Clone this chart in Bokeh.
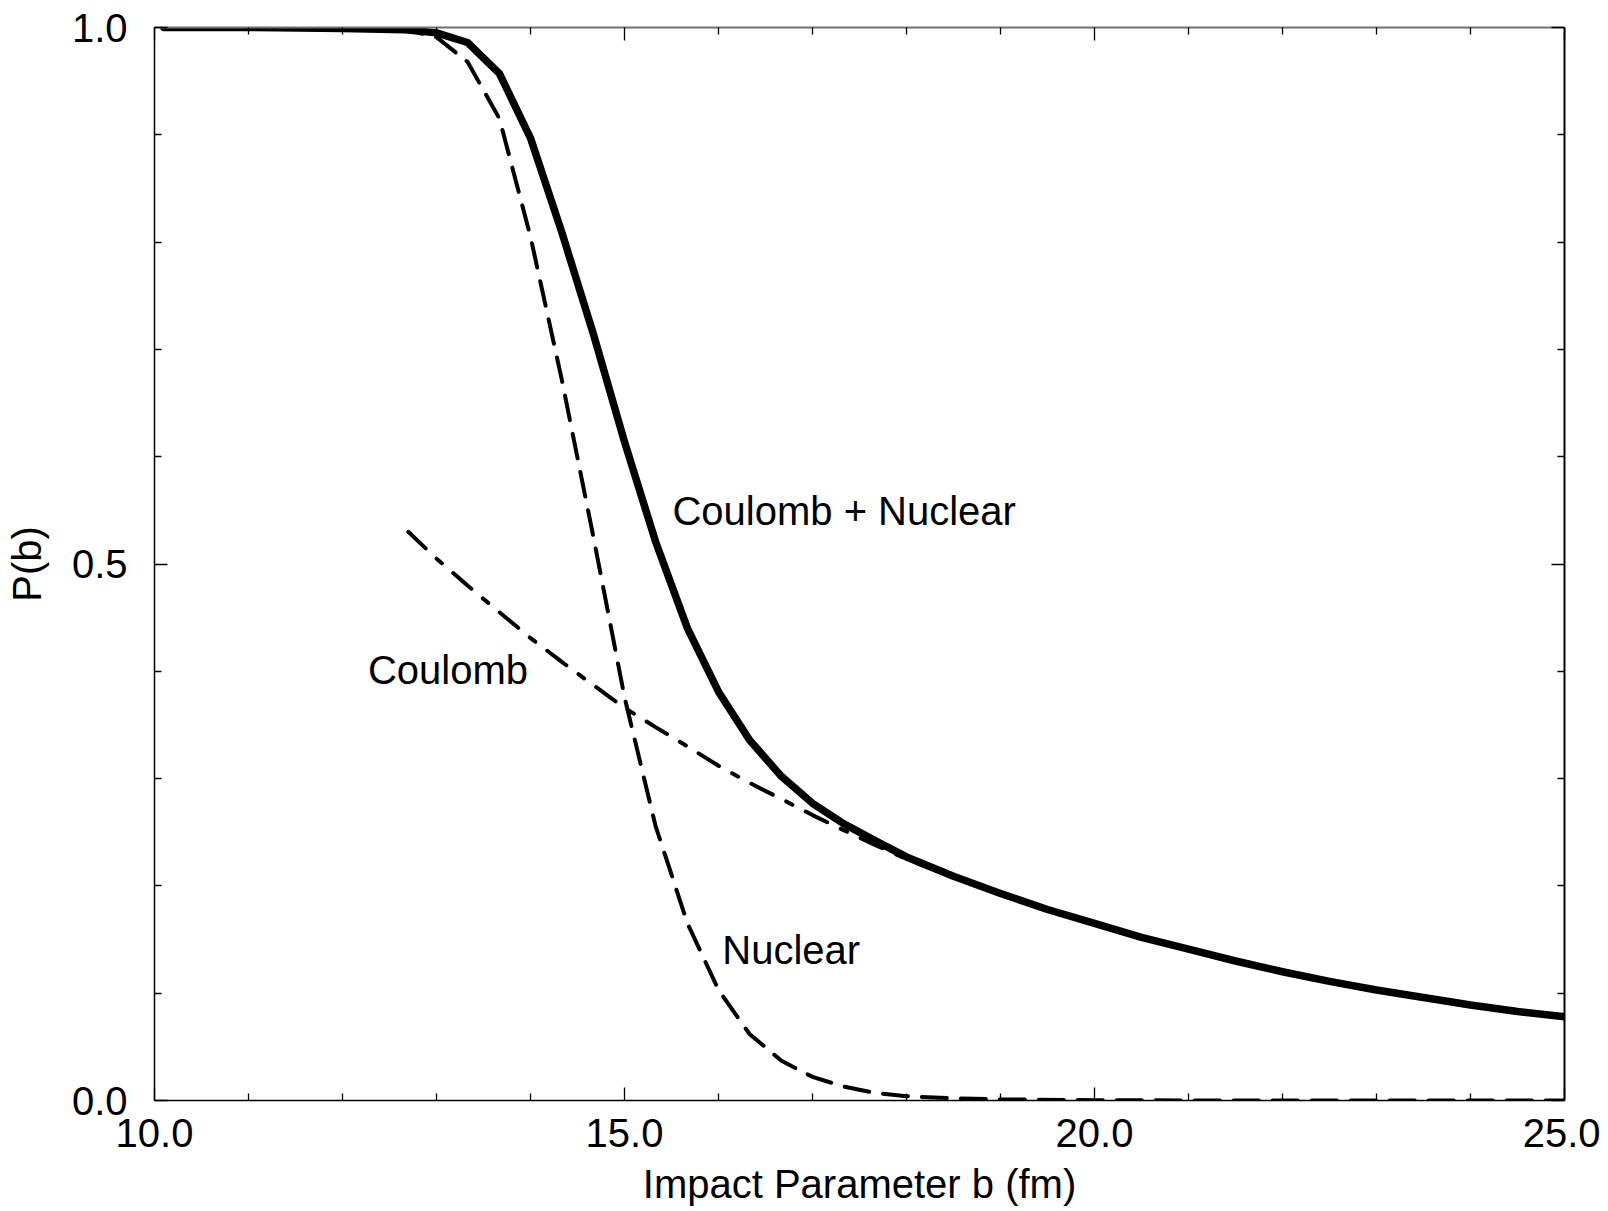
from bokeh.plotting import figure
from bokeh.models import FixedTicker, LinearAxis, Range1d, NumeralTickFormatter
from bokeh.embed import file_html
from bokeh.resources import INLINE
from bokeh.core.properties import value

# Coulomb + Nuclear (solid)
b_total = [10.1, 11.0, 12.0, 12.67, 13.0, 13.33, 13.67, 14.0, 14.33, 14.67, 15.0,
           15.33, 15.67, 16.0, 16.33, 16.67, 17.0, 17.33, 17.67, 18.0, 18.5, 19.0,
           19.5, 20.0, 20.5, 21.0, 21.5, 22.0, 22.5, 23.0, 23.5, 24.0, 24.5, 25.0]
p_total = [1.0, 1.0, 0.999, 0.998, 0.995, 0.986, 0.957, 0.897, 0.810, 0.714, 0.614,
           0.521, 0.440, 0.381, 0.336, 0.302, 0.277, 0.258, 0.242, 0.227, 0.209, 0.193,
           0.178, 0.165, 0.152, 0.141, 0.130, 0.120, 0.111, 0.103, 0.096, 0.089, 0.083, 0.078]

# Nuclear (dashed)
b_nuc = [10.1, 11.0, 12.0, 12.67, 13.0, 13.33, 13.67, 14.0, 14.33, 14.67, 15.0,
         15.33, 15.67, 16.0, 16.33, 16.67, 17.0, 17.33, 17.67, 18.0, 18.5, 19.0,
         20.0, 21.0, 22.0, 23.0, 24.0, 25.0]
p_nuc = [1.0, 1.0, 0.999, 0.998, 0.991, 0.968, 0.915, 0.805, 0.673, 0.525, 0.376,
         0.256, 0.165, 0.103, 0.062, 0.037, 0.022, 0.013, 0.007, 0.004, 0.002, 0.001,
         0.0003, 0.0001, 0.0, 0.0, 0.0, 0.0]

# Coulomb (dash-dot)
b_coul = [12.7, 13.0, 13.33, 13.67, 14.0, 14.33, 14.67, 15.0, 15.33, 15.67, 16.0,
          16.33, 16.67, 17.0, 17.33, 17.67, 18.0, 18.33]
p_coul = [0.530, 0.505, 0.480, 0.455, 0.431, 0.409, 0.387, 0.366, 0.348, 0.330, 0.312,
          0.296, 0.281, 0.266, 0.252, 0.238, 0.225, 0.214]

x_major = [10.0, 15.0, 20.0, 25.0]
x_minor = [11, 12, 13, 14, 16, 17, 18, 19, 21, 22, 23, 24]
y_major = [0.0, 0.5, 1.0]
y_minor = [0.1, 0.2, 0.3, 0.4, 0.6, 0.7, 0.8, 0.9]

labels = ["Coulomb + Nuclear", "Coulomb", "Nuclear"]
label_b = [15.51, 12.27, 16.04]
label_p = [0.549, 0.401, 0.140]

FONT = "Liberation Sans"
FS = "40px"

p = figure(frame_width=1410, frame_height=1073,
           x_range=Range1d(10, 25), y_range=Range1d(0, 1),
           output_backend="svg", toolbar_location=None,
           min_border_left=154, min_border_top=27, min_border_right=36, min_border_bottom=104,
           x_axis_label="Impact Parameter b (fm)", y_axis_label="P(b)")
p.grid.visible = False
p.outline_line_color = None
p.background_fill_color = "white"
p.border_fill_color = "white"

def style_axis(ax, major, minor, show_labels):
    ax.ticker = FixedTicker(ticks=major, minor_ticks=minor)
    ax.formatter = NumeralTickFormatter(format="0.0")
    ax.axis_line_color = "black"
    ax.axis_line_width = 1.5
    ax.major_tick_line_color = "black"
    ax.minor_tick_line_color = "black"
    ax.major_tick_line_width = 1.3
    ax.minor_tick_line_width = 1.3
    ax.major_tick_in = 13
    ax.major_tick_out = 0
    ax.minor_tick_in = 7
    ax.minor_tick_out = 0
    ax.major_label_text_font = FONT
    ax.axis_label_text_font = FONT
    ax.axis_label_text_font_style = "normal"
    ax.axis_label_text_color = "black"
    ax.major_label_text_color = "black"
    if show_labels:
        ax.major_label_text_font_size = FS
        ax.axis_label_text_font_size = FS
    else:
        ax.major_label_text_font_size = "0px"
        ax.major_label_standoff = 0
        ax.axis_label = None

xa = p.xaxis[0]
ya = p.yaxis[0]
style_axis(xa, x_major, x_minor, True)
style_axis(ya, y_major, y_minor, True)
xa.major_label_standoff = 18
xa.axis_label_standoff = 12
ya.major_label_standoff = 27
ya.axis_label_standoff = 20

top = LinearAxis()
right = LinearAxis()
style_axis(top, x_major, x_minor, False)
style_axis(right, y_major, y_minor, False)
top.axis_line_color = "#707070"
top.axis_line_width = 2
right.axis_line_width = 2
p.add_layout(top, "above")
p.add_layout(right, "right")

p.line(b_nuc, p_nuc, line_color="black", line_width=4, line_dash="25 14", line_cap="round")
p.line(b_coul, p_coul, line_color="black", line_width=4, line_dash="24 15 7 15", line_cap="round")
p.line(b_total, p_total, line_color="black", line_width=7.5, line_cap="round", line_join="round")

p.text(x=label_b, y=label_p, text=labels, text_font=value(FONT), text_font_size=FS,
       text_color="black", text_align="left", text_baseline="alphabetic")

open("out.html", "w").write(file_html(p, INLINE))
